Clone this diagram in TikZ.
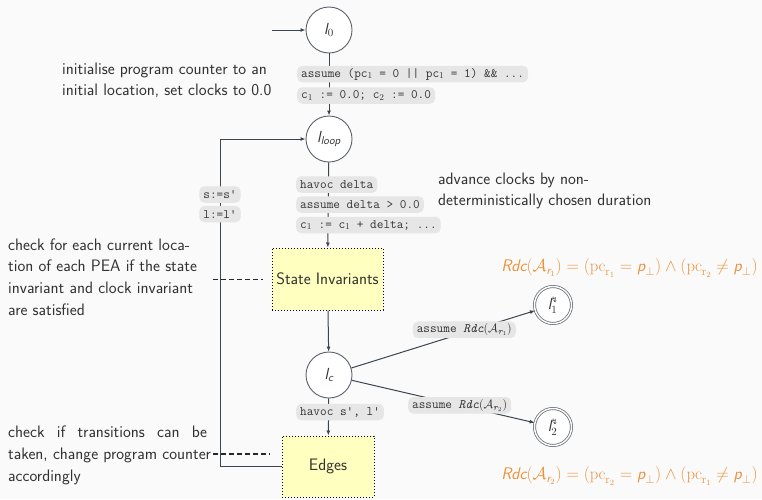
\documentclass[tikz,border=0pt]{standalone}
\usepackage{amsmath}
\usepackage{fontspec}
\usetikzlibrary{arrows.meta}
\newfontfamily\symbolfont{DejaVu Sans}
\definecolor{bgcol}{RGB}{250,250,250}
\definecolor{linecol}{RGB}{60,68,78}
\definecolor{txtcol}{RGB}{50,50,50}
\definecolor{lblcol}{RGB}{230,230,230}
\definecolor{boxcol}{RGB}{255,255,192}
\definecolor{fmlcol}{RGB}{236,146,62}
\newcommand{\lightn}{\mbox{\fontsize{7.5}{7.5}\symbolfont ↯}}
\newcommand{\rdcf}[2]{$\textit{Rdc}(\mathcal{A}_{\textit{r}_{#1}}) = (\mathrm{pc}_{\mathrm{r}_{#1}} = \textit{p}_{\perp}) \land (\mathrm{pc}_{\mathrm{r}_{#2}} \neq \textit{p}_{\perp})$}
\tikzset{
  loc/.style={circle, draw=linecol!85, line width=0.9pt, fill=white, minimum size=46pt, inner sep=0pt,
    font=\fontsize{16}{16}\sffamily, text=txtcol},
  errloc/.style={circle, draw=linecol!75, double=white, double distance=1.4pt, line width=0.8pt, fill=white,
    minimum size=37pt, inner sep=0pt, font=\fontsize{16}{16}\sffamily, text=txtcol},
  stmt/.style={fill=lblcol, rounded corners=5pt, inner xsep=4pt, inner ysep=0pt, minimum height=16.5pt,
    font=\fontsize{12.9}{12.9}\ttfamily, text=txtcol},
  phase/.style={draw=black, dotted, line width=1pt, fill=boxcol, inner sep=0pt,
    font=\fontsize{16.6}{17}\sffamily, text=txtcol},
  note/.style={font=\fontsize{16.6}{21.6}\sffamily, text=txtcol, inner sep=0pt, align=left},
  fml/.style={font=\fontsize{16.8}{17}\sffamily, text=fmlcol, inner sep=0pt},
  flow/.style={draw=linecol, line width=1pt, -{Latex[length=5pt,width=4pt]}},
  guide/.style={draw=black!85, line width=1.1pt, dash pattern=on 5pt off 3pt}
}
\begin{document}
\begin{tikzpicture}[x=1pt, y=-1pt]
  \fill[bgcol] (0,0) rectangle (762,499);
  \useasboundingbox (0,0) rectangle (762,499);

  % locations of the program
  \node[loc] (l0) at (329,30) {$\textit{l}_0$};
  \node[loc] (lloop) at (329,139) {$\textit{l}_{\textit{loop}}$};
  \node[loc] (lc) at (329,375) {$\textit{l}_{\textit{c}}$};
  \node[errloc] (l1) at (553,305) {$\textit{l}_1^{\lightn}$};
  \node[errloc] (l2) at (553,427) {$\textit{l}_2^{\lightn}$};

  % checking phases
  \node[phase, minimum width=111pt, minimum height=62pt] (si) at (327.5,279) {State Invariants};
  \node[phase, minimum width=92pt, minimum height=61pt] (ed) at (328,466.5) {Edges};

  % entry
  \coordinate (entry) at (272,30);
  \draw[flow] (entry) -- (l0);

  % straight-line flow
  \draw[flow] (l0) -- (lloop);
  \draw[flow] (lloop) -- (si);
  \draw[flow] (si) -- (lc);
  \draw[flow] (lc) -- (ed);

  % feedback to the loop head
  \coordinate (bend) at (220,466.5);
  \draw[flow] (ed.west) -- (bend) |- (lloop.west);

  % statements on the vertical edges
  \node[stmt, anchor=west] (a1) at (297,74) {assume (pc$_1$ = 0 || pc$_1$ = 1) \&\& ...};
  \node[stmt, anchor=west] (a2) at (297,95.5) {c$_1$ := 0.0; c$_2$ := 0.0};
  \node[stmt, anchor=west] (b1) at (296,184.5) {havoc delta};
  \node[stmt, anchor=west] (b2) at (296,204.5) {assume delta > 0.0};
  \node[stmt, anchor=west] (b3) at (296,225) {c$_1$ := c$_1$ + delta; ...};
  \node[stmt, anchor=west] (d1) at (296,412) {havoc s', l'};
  \node[stmt] (f1) at (220,194.5) {s:=s'};
  \node[stmt] (f2) at (220,214) {l:=l'};

  % branches to error locations
  \draw[flow] (lc) -- node[stmt, pos=0.615, yshift=3pt] {assume $\textit{Rdc}(\mathcal{A}_{\textit{r}_1})$} (l1);
  \draw[flow] (lc) -- node[stmt, pos=0.59] {assume $\textit{Rdc}(\mathcal{A}_{\textit{r}_2})$} (l2);

  % explanations
  \node[note, anchor=north west] (n0) at (62,62.5) {initialise program counter to an\\initial location, set clocks to 0.0};
  \node[note, anchor=north west] (n1) at (438,172.5) {advance clocks by non-\\deterministically chosen duration};
  \node[note, anchor=north west] (n2) at (8,238.5) {check for each current loca-\\tion of each PEA if the state\\invariant and clock invariant\\are satisfied};
  \node[note, anchor=north west] (n3) at (8,426) {\makebox[199pt][s]{check if transitions can be}\\taken, change program counter\\accordingly};

  \coordinate (g1) at (213,279.5);
  \coordinate (g2) at (213,454);
  \draw[guide] (g1) -- (263,279.5);
  \draw[guide, shorten >=12pt] (g2) -- (ed.west |- g2);

  % reachability conditions
  \node[fml, anchor=east] (r1) at (758,268) {\rdcf{1}{2}};
  \node[fml, anchor=east] (r2) at (758,476) {\rdcf{2}{1}};
\end{tikzpicture}
\end{document}
